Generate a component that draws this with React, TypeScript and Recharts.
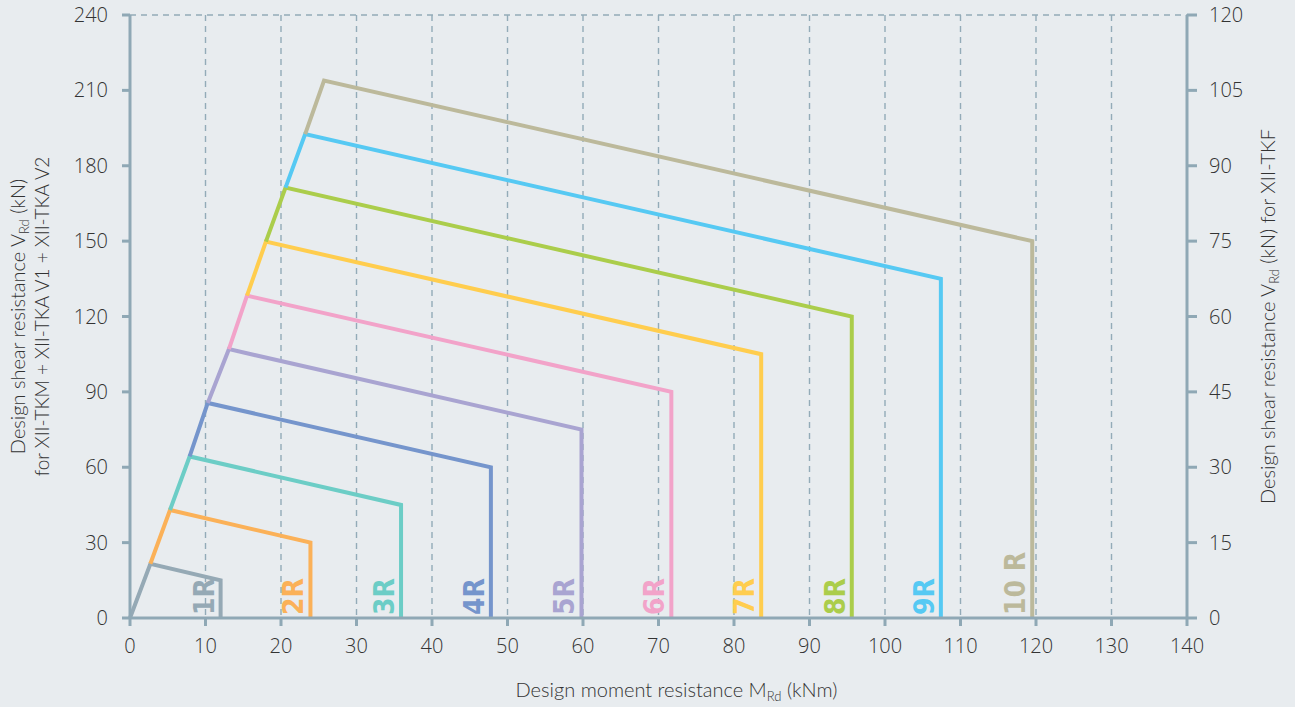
import React from "react";
import { LineChart, Line, XAxis, YAxis, CartesianGrid } from "recharts";

const seriesNames = ["1R", "2R", "3R", "4R", "5R", "6R", "7R", "8R", "9R", "10 R"];
const seriesColors = ["#95a9b5", "#fbb158", "#6ccdc6", "#7595cc", "#a9a4d1", "#f2a3c9", "#ffcd4e", "#abcd4b", "#56c9f3", "#bcb99b"];
const peakM = [2.7, 5.3, 7.9, 10.3, 13.1, 15.5, 18.0, 20.6, 23.2, 25.7];
const peakV = [21.6, 43.0, 64.3, 85.6, 107.0, 128.3, 149.8, 171.3, 192.6, 213.9];
const endM = [12.0, 23.9, 35.9, 47.8, 59.8, 71.7, 83.6, 95.6, 107.4, 119.5];
const endV = [15, 30, 45, 60, 75, 90, 105, 120, 135, 150];

const xTicks = [0, 10, 20, 30, 40, 50, 60, 70, 80, 90, 100, 110, 120, 130, 140];
const yTicksLeft = [0, 30, 60, 90, 120, 150, 180, 210, 240];
const yTicksRight = [0, 15, 30, 45, 60, 75, 90, 105, 120];

const seriesData = seriesNames.map((_, i) => [
  { m: i === 0 ? 0 : peakM[i - 1], v: i === 0 ? 0 : peakV[i - 1] },
  { m: peakM[i], v: peakV[i] },
  { m: endM[i], v: endV[i] },
  { m: endM[i], v: 0 },
]);

// invisible helper so the right axis gets its scale (not drawn)
const rightAxisExtent = [
  { m: xTicks[0], r: yTicksRight[0] },
  { m: xTicks[xTicks.length - 1], r: yTicksRight[yTicksRight.length - 1] },
];

const AXIS = "#8fa8b5";
const TITLE_FONT = "Lato, 'Open Sans', sans-serif";
const TICK_FONT = "'Open Sans', Lato, sans-serif";
const TEXT = "#333";

const tickStyle = { fill: TEXT, fontSize: 20, fontFamily: TICK_FONT, fontWeight: 300 };

const XTitle = (props: any) => {
  const vb = props.viewBox || { x: 130, y: 618, width: 1057, height: 89 };
  const cx = vb.x + vb.width / 2 + 18;
  return (
    <text x={cx} y={697} textAnchor="middle" fill={TEXT} fontSize={20} fontWeight={300} fontFamily={TITLE_FONT}>
      Design moment resistance M
      <tspan fontSize={13} dy={4}>Rd</tspan>
      <tspan dy={-4}> (kNm)</tspan>
    </text>
  );
};

const LeftTitle = (props: any) => {
  const vb = props.viewBox || { x: 0, y: 15, width: 130, height: 603 };
  const cy = vb.y + vb.height / 2;
  return (
    <g>
      <text x={25} y={cy} transform={`rotate(-90 25 ${cy})`} textAnchor="middle" fill={TEXT} fontSize={20} fontWeight={300} fontFamily={TITLE_FONT}>
        Design shear resistance V
        <tspan fontSize={13} dy={4}>Rd</tspan>
        <tspan dy={-4}> (kN)</tspan>
      </text>
      <text x={49} y={cy} transform={`rotate(-90 49 ${cy})`} textAnchor="middle" fill={TEXT} fontSize={19} fontWeight={300} fontFamily={TITLE_FONT}>
        for XII-TKM + XII-TKA V1 + XII-TKA V2
      </text>
    </g>
  );
};

const RightTitle = (props: any) => {
  const vb = props.viewBox || { x: 1187, y: 15, width: 108, height: 603 };
  const cy = vb.y + vb.height / 2;
  const x = 1275;
  return (
    <text x={x} y={cy} transform={`rotate(-90 ${x} ${cy})`} textAnchor="middle" fill={TEXT} fontSize={20} fontWeight={300} fontFamily={TITLE_FONT}>
      Design shear resistance V
      <tspan fontSize={13} dy={4}>Rd</tspan>
      <tspan dy={-4}> (kN) for XII-TKF</tspan>
    </text>
  );
};

const makeLabel = (i: number) => (props: any) => {
  const { x, y, index } = props;
  if (index !== 3 || x == null || y == null) return null;
  const bx = x - 7;
  const by = y - 3;
  return (
    <text
      x={bx}
      y={by}
      transform={`rotate(-90 ${bx} ${by})`}
      textAnchor="start"
      fill={seriesColors[i]}
      fontSize={28}
      fontWeight="bold"
      fontFamily="'Liberation Sans Narrow', 'DejaVu Sans Condensed', 'Roboto', sans-serif"
    >
      {seriesNames[i]}
    </text>
  );
};

export default function App() {
  return (
    <div style={{ position: "absolute", left: 0, top: 0, width: 1295, height: 707, background: "#e8ecef" }}>
      <LineChart width={1295} height={707} margin={{ top: 15, right: 0, bottom: 0, left: 0 }}>
        <CartesianGrid stroke="#93abb8" strokeDasharray="6 5" strokeWidth={1.4} />
        <XAxis
          type="number"
          dataKey="m"
          domain={[0, 140]}
          ticks={xTicks}
          interval={0}
          height={89}
          axisLine={{ stroke: AXIS, strokeWidth: 3 }}
          tickLine={{ stroke: AXIS, strokeWidth: 3 }}
          tickSize={8}
          tickMargin={13}
          tick={tickStyle}
          label={<XTitle />}
        />
        <YAxis
          yAxisId="left"
          type="number"
          domain={[0, 240]}
          ticks={yTicksLeft}
          interval={0}
          width={130}
          axisLine={{ stroke: AXIS, strokeWidth: 3 }}
          tickLine={{ stroke: AXIS, strokeWidth: 3 }}
          tickSize={8}
          tickMargin={14}
          tick={tickStyle}
          label={<LeftTitle />}
        />
        <YAxis
          yAxisId="right"
          orientation="right"
          type="number"
          domain={[0, 120]}
          ticks={yTicksRight}
          interval={0}
          width={108}
          axisLine={{ stroke: AXIS, strokeWidth: 3 }}
          tickLine={{ stroke: AXIS, strokeWidth: 3 }}
          tickSize={10}
          tickMargin={12}
          tick={tickStyle}
          label={<RightTitle />}
        />
        <Line
          yAxisId="right"
          data={rightAxisExtent}
          dataKey="r"
          stroke="none"
          strokeWidth={0}
          dot={false}
          activeDot={false}
          legendType="none"
          isAnimationActive={false}
        />
        {seriesData.map((d, i) => (
          <Line
            key={seriesNames[i]}
            yAxisId="left"
            data={d}
            dataKey="v"
            type="linear"
            stroke={seriesColors[i]}
            strokeWidth={4}
            strokeLinejoin="miter"
            dot={false}
            activeDot={false}
            isAnimationActive={false}
            label={makeLabel(i)}
          />
        ))}
      </LineChart>
    </div>
  );
}
